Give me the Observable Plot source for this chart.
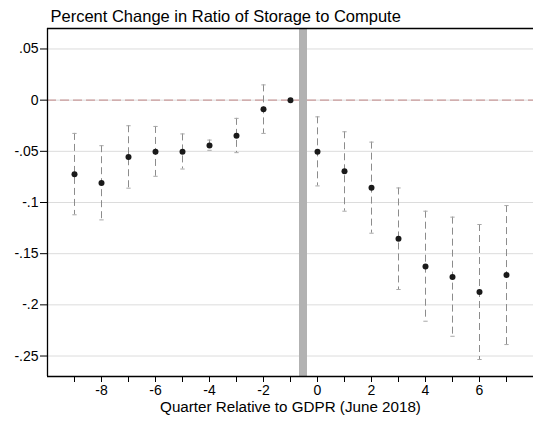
<!DOCTYPE html>
<html>
<head>
<meta charset="utf-8">
<script src="https://cdn.jsdelivr.net/npm/d3@7"></script>
<script src="https://cdn.jsdelivr.net/npm/@observablehq/plot@0.6"></script>
<style>
  html, body { margin: 0; padding: 0; background: #fff; overflow: hidden; }
  svg { display: block; }
</style>
</head>
<body>
<div id="chart"></div>
<script>
// Data
const quarters = [-9, -8, -7, -6, -5, -4, -3, -2, -1, 0, 1, 2, 3, 4, 5, 6, 7];
const estimate = [-0.0724, -0.0809, -0.0556, -0.0504, -0.0504, -0.0442, -0.0348, -0.0088, 0, -0.0504, -0.0695, -0.0855, -0.1355, -0.1625, -0.1728, -0.1874, -0.1709];
const ciUpper  = [-0.0325, -0.0445, -0.0250, -0.0257, -0.0330, -0.0390, -0.0178, 0.0149, null, -0.0163, -0.0309, -0.0410, -0.0858, -0.1085, -0.1143, -0.1215, -0.1030];
const ciLower  = [-0.1120, -0.1170, -0.0860, -0.0744, -0.0673, -0.0490, -0.0513, -0.0325, null, -0.0838, -0.1085, -0.1300, -0.1850, -0.2160, -0.2307, -0.2534, -0.2388];
const gdprLine = [-0.5];
const zeroLine = [0];
const xTicks = [-9, -8, -7, -6, -5, -4, -3, -2, -1, 0, 1, 2, 3, 4, 5, 6, 7];
const xTickLabels = ["", "-8", "", "-6", "", "-4", "", "-2", "", "0", "", "2", "", "4", "", "6", ""];
const yTicks = [0.05, 0, -0.05, -0.1, -0.15, -0.2, -0.25];
const yTickLabels = [".05", "0", "-.05", "-.1", "-.15", "-.2", "-.25"];
const xDomain = [-10, 8];
const yDomain = [-0.27, 0.07];
const title = "Percent Change in Ratio of Storage to Compute";
const xTitle = "Quarter Relative to GDPR (June 2018)";

const rows = quarters.map((q, i) => ({q, est: estimate[i], hi: ciUpper[i], lo: ciLower[i]}));
const ciRows = rows.filter(d => d.hi != null);
const capHalf = 0.08;

const chart = Plot.plot({
  width: 533,
  height: 423,
  marginLeft: 47,
  marginRight: 0,
  marginTop: 28,
  marginBottom: 47,
  style: {fontFamily: "'Liberation Sans', Arial, Helvetica, sans-serif", fontSize: "14px", color: "#000", background: "#fff"},
  x: {domain: xDomain},
  y: {domain: yDomain},
  marks: [
    Plot.gridY(yTicks, {stroke: "#dcdcdc", strokeOpacity: 1, strokeWidth: 1}),
    Plot.ruleY(zeroLine, {stroke: "#c99a9a", strokeDasharray: "9,4", strokeWidth: 1.2}),
    Plot.ruleX(gdprLine, {stroke: "#b2b2b2", strokeWidth: 8, dx: -1}),
    Plot.ruleX(ciRows, {x: "q", y1: "hi", y2: "lo", stroke: "#8c8c8c", strokeWidth: 1, strokeDasharray: "7,4"}),
    Plot.link(ciRows, {x1: d => d.q - capHalf, x2: d => d.q + capHalf, y1: "hi", y2: "hi", stroke: "#a8a8a8", strokeWidth: 1}),
    Plot.link(ciRows, {x1: d => d.q - capHalf, x2: d => d.q + capHalf, y1: "lo", y2: "lo", stroke: "#a8a8a8", strokeWidth: 1}),
    Plot.dot(rows, {x: "q", y: "est", r: 3, fill: "#1a1a1a", stroke: "none"}),
    // frame lines (left, top, bottom)
    Plot.ruleX([xDomain[0]], {stroke: "#000", strokeWidth: 1.3}),
    Plot.ruleY(yDomain, {stroke: "#000", strokeWidth: 1.3}),
    Plot.axisY({ticks: yTicks, tickFormat: (d, i) => yTickLabels[yTicks.indexOf(d)], tickSize: 7, tickPadding: 2, label: null, stroke: "#000", fontSize: 14}),
    Plot.axisX({ticks: xTicks, tickFormat: d => xTickLabels[xTicks.indexOf(d)], tickSize: 6, tickPadding: 3, label: null, stroke: "#000", fontSize: 14}),
    Plot.text([xTitle], {frameAnchor: "bottom", dy: 30.7, lineAnchor: "middle", textAnchor: "middle", fontSize: 15.2, fill: "#000"}),
    Plot.text([title], {frameAnchor: "top-left", dx: 3, dy: -11.3, lineAnchor: "middle", textAnchor: "start", fontSize: 16.5, fill: "#000"})
  ]
});
document.getElementById("chart").appendChild(chart);
</script>
</body>
</html>
